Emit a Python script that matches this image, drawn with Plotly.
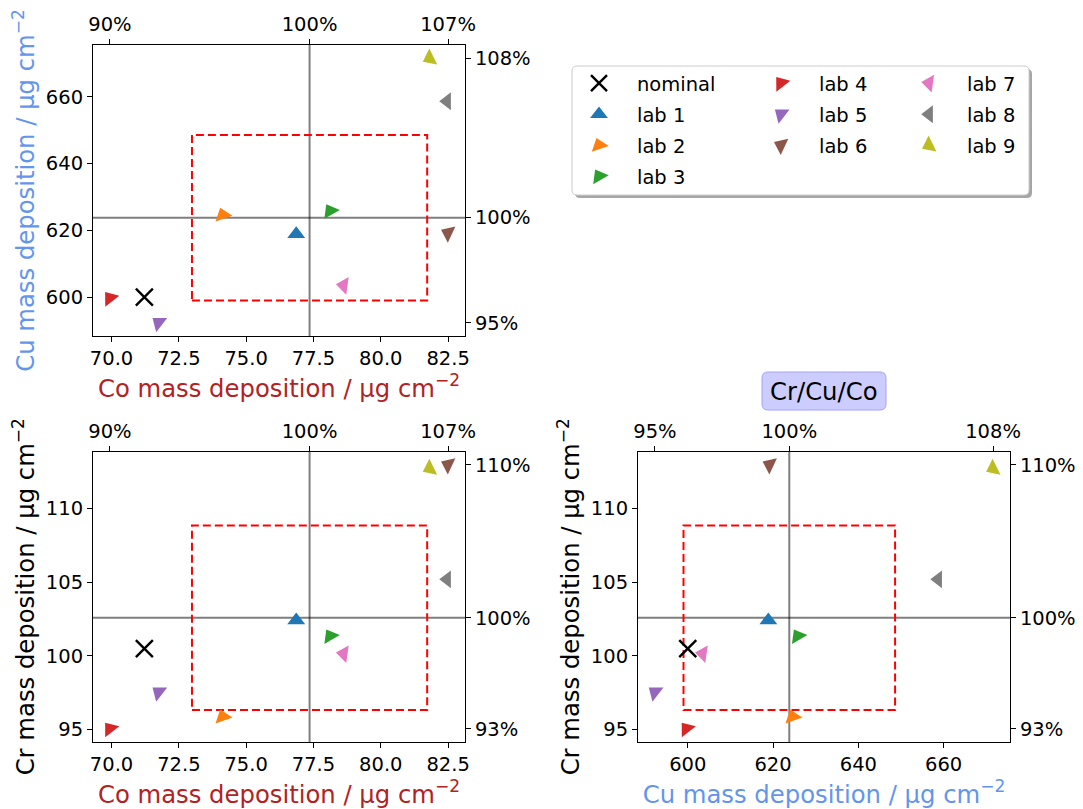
import numpy as np
import plotly.graph_objects as go

# ---------------- data ----------------
lab_names = ["lab 1", "lab 2", "lab 3", "lab 4", "lab 5", "lab 6", "lab 7", "lab 8", "lab 9"]
co_values = [76.86, 74.13, 78.12, 69.94, 71.75, 82.50, 78.62, 82.46, 81.82]   # µg cm-2
cu_values = [618.9, 624.6, 625.8, 599.7, 592.3, 619.2, 603.5, 658.7, 671.6]   # µg cm-2
cr_values = [102.40, 95.86, 101.33, 95.05, 97.53, 112.95, 100.14, 105.18, 112.70]  # µg cm-2
nominal_co = 71.22
nominal_cu = 600.0
nominal_cr = 100.48

# ---------------- styles ----------------
lab_colors = ["#1f77b4", "#ff7f0e", "#2ca02c", "#d62728", "#9467bd",
              "#8c564b", "#e377c2", "#7f7f7f", "#bcbd22"]
lab_angles = [0, -19, -30, -38, -52, -65, -82, -90, -116]
legend_cols = ["legend", "legend", "legend", "legend2", "legend2", "legend2",
               "legend3", "legend3", "legend3"]

FONT = "DejaVu Sans"
TICK_SIZE = 19.5
LABEL_SIZE = 24.3
OFF = 8                      # page offset of the plot div (body margin)
FIG_W, FIG_H = 1083 - OFF, 809 - OFF
ML, MT = 93 - OFF, 45 - OFF
MR = FIG_W - (1010 - OFF)
MB = FIG_H - (742 - OFF)
PW = FIG_W - ML - MR
PH = FIG_H - MT - MB


def xfrac(px):
    """page pixel -> paper fraction"""
    return (px - OFF - ML) / PW


def yfrac(py):
    return (FIG_H - MB - (py - OFF)) / PH


def rounded_rect(px0, py0, px1, py1, r):
    """SVG path (paper units) for a rectangle with rounded corners, given page pixels."""
    x0, x1 = xfrac(px0), xfrac(px1)
    yt, yb = yfrac(py0), yfrac(py1)
    rx, ry = r / PW, r / PH
    return (f"M{x0 + rx},{yt} L{x1 - rx},{yt} Q{x1},{yt} {x1},{yt - ry} "
            f"L{x1},{yb + ry} Q{x1},{yb} {x1 - rx},{yb} L{x0 + rx},{yb} "
            f"Q{x0},{yb} {x0},{yb + ry} L{x0},{yt - ry} Q{x0},{yt} {x0 + rx},{yt} Z")


quantities = {
    "Co": dict(vals=co_values, nom=nominal_co, dtick=2.5, tick0=70, fmt=".1f",
               title="Co mass deposition / µg cm<sup>−2</sup>", color="#b22222"),
    "Cu": dict(vals=cu_values, nom=nominal_cu, dtick=20, tick0=600, fmt="d",
               title="Cu mass deposition / µg cm<sup>−2</sup>", color="#6495ed"),
    "Cr": dict(vals=cr_values, nom=nominal_cr, dtick=5, tick0=95, fmt="d",
               title="Cr mass deposition / µg cm<sup>−2</sup>", color="black"),
}
for q in quantities.values():
    v = np.array(q["vals"], dtype=float)
    allv = np.append(v, q["nom"])
    lo, hi = allv.min(), allv.max()
    pad = 0.05 * (hi - lo)
    q["range"] = [lo - pad, hi + pad]
    q["mean"] = v.mean()
    q["std"] = v.std()
    q["pct_vals"] = [v.min(), q["mean"], v.max()]
    q["pct_text"] = [f"{round(t / q['mean'] * 100):.0f}%" for t in q["pct_vals"]]

panels = [
    dict(xq="Co", yq="Cu", n="", n2="4", px=(93, 465), py=(45, 336)),
    dict(xq="Co", yq="Cr", n="2", n2="5", px=(93, 465), py=(451.5, 742)),
    dict(xq="Cu", yq="Cr", n="3", n2="6", px=(638, 1010), py=(451.5, 742)),
]

fig = go.Figure()
axis_common = dict(showline=True, linecolor="black", linewidth=1, ticks="outside",
                   ticklen=5, tickwidth=1, tickcolor="black", showgrid=False,
                   zeroline=False, automargin=False,
                   tickfont=dict(family=FONT, size=TICK_SIZE, color="black"))
shapes = []

for k, p in enumerate(panels):
    xq, yq = quantities[p["xq"]], quantities[p["yq"]]
    xa, ya = "x" + p["n"], "y" + p["n"]
    xa2, ya2 = "x" + p["n2"], "y" + p["n2"]

    # nominal
    fig.add_trace(go.Scatter(
        x=[xq["nom"]], y=[yq["nom"]], mode="markers", name="nominal",
        legend="legend", legendgroup="nominal", showlegend=(k == 0),
        marker=dict(symbol="x-thin", size=17, color="black",
                    line=dict(width=2.4, color="black")),
        xaxis=xa, yaxis=ya))
    # labs
    for i, name in enumerate(lab_names):
        fig.add_trace(go.Scatter(
            x=[xq["vals"][i]], y=[yq["vals"][i]], mode="markers", name=name,
            legend=legend_cols[i], legendgroup=name, showlegend=(k == 0),
            marker=dict(symbol="triangle-up", size=15.5, color=lab_colors[i],
                        angle=lab_angles[i], line=dict(width=0)),
            xaxis=xa, yaxis=ya))
    # invisible trace for the secondary (percent) axes
    fig.add_trace(go.Scatter(
        x=xq["vals"], y=yq["vals"], mode="markers", showlegend=False,
        hoverinfo="skip", marker=dict(opacity=0), xaxis=xa2, yaxis=ya2))

    xdom = [max(0, xfrac(p["px"][0])), min(1, xfrac(p["px"][1]))]
    ydom = [max(0, yfrac(p["py"][1])), min(1, yfrac(p["py"][0]))]

    fig.update_layout({
        "xaxis" + p["n"]: dict(axis_common, domain=xdom, anchor=ya, range=xq["range"],
                               dtick=xq["dtick"], tick0=xq["tick0"], tickformat=xq["fmt"],
                               title=dict(text=xq["title"], standoff=0,
                                          font=dict(family=FONT, size=LABEL_SIZE, color=xq["color"]))),
        "yaxis" + p["n"]: dict(axis_common, domain=ydom, anchor=xa, range=yq["range"],
                               dtick=yq["dtick"], tick0=yq["tick0"], tickformat=yq["fmt"],
                               title=dict(text=yq["title"], standoff=4,
                                          font=dict(family=FONT, size=LABEL_SIZE, color=yq["color"]))),
        "xaxis" + p["n2"]: dict(axis_common, overlaying=xa, side="top", anchor=ya2,
                                range=xq["range"], tickmode="array",
                                tickvals=xq["pct_vals"], ticktext=xq["pct_text"]),
        "yaxis" + p["n2"]: dict(axis_common, overlaying=ya, side="right", anchor=xa2,
                                range=yq["range"], tickmode="array",
                                tickvals=yq["pct_vals"], ticktext=yq["pct_text"]),
    })

    # reference (mean) lines
    shapes.append(dict(type="line", xref=xa, yref=ya + " domain", x0=xq["mean"], x1=xq["mean"],
                       y0=0, y1=1, line=dict(color="rgba(0,0,0,0.5)", width=2), layer="below"))
    shapes.append(dict(type="line", xref=xa + " domain", yref=ya, y0=yq["mean"], y1=yq["mean"],
                       x0=0, x1=1, line=dict(color="rgba(0,0,0,0.5)", width=2), layer="below"))
    # mean ± std box
    shapes.append(dict(type="rect", xref=xa, yref=ya,
                       x0=xq["mean"] - xq["std"], x1=xq["mean"] + xq["std"],
                       y0=yq["mean"] - yq["std"], y1=yq["mean"] + yq["std"],
                       line=dict(color="red", width=2, dash="8px,4px"), layer="below"))

# legend frame (shadow + rounded box)
lx0, lx1, ly0, ly1 = 572, 1029, 66, 195
shapes.append(dict(type="path", xref="paper", yref="paper",
                   path=rounded_rect(lx0 + 3, ly0 + 3, lx1 + 3, ly1 + 3, 5),
                   fillcolor="rgba(0,0,0,0.35)", line=dict(width=0), layer="above"))
shapes.append(dict(type="path", xref="paper", yref="paper",
                   path=rounded_rect(lx0, ly0, lx1, ly1, 5),
                   fillcolor="white", line=dict(color="#cccccc", width=1), layer="above"))
# title box (rounded)
shapes.append(dict(type="path", xref="paper", yref="paper",
                   path=rounded_rect(762, 372, 886, 410, 6),
                   fillcolor="#ccccff", line=dict(color="#a3a3ff", width=1), layer="above"))

leg_common = dict(xanchor="left", yanchor="top", bgcolor="rgba(0,0,0,0)", borderwidth=0,
                  font=dict(family=FONT, size=TICK_SIZE, color="black"),
                  itemwidth=66, tracegroupgap=2.7, orientation="v")
legend_x = [561, 743, 891]
legend_top = 64

fig.update_layout(
    width=FIG_W, height=FIG_H,
    margin=dict(l=ML, r=MR, t=MT, b=MB, autoexpand=False),
    paper_bgcolor="white", plot_bgcolor="white",
    font=dict(family=FONT, size=TICK_SIZE, color="black"),
    shapes=shapes,
    legend=dict(leg_common, x=xfrac(legend_x[0]), y=yfrac(legend_top)),
    legend2=dict(leg_common, x=xfrac(legend_x[1]), y=yfrac(legend_top)),
    legend3=dict(leg_common, x=xfrac(legend_x[2]), y=yfrac(legend_top)),
    annotations=[dict(text="Cr/Cu/Co", xref="paper", yref="paper",
                      x=xfrac(824), y=yfrac(391), xanchor="center", yanchor="middle",
                      showarrow=False,
                      font=dict(family=FONT, size=LABEL_SIZE, color="black"))],
    showlegend=True,
)

fig.write_html("out.html")
